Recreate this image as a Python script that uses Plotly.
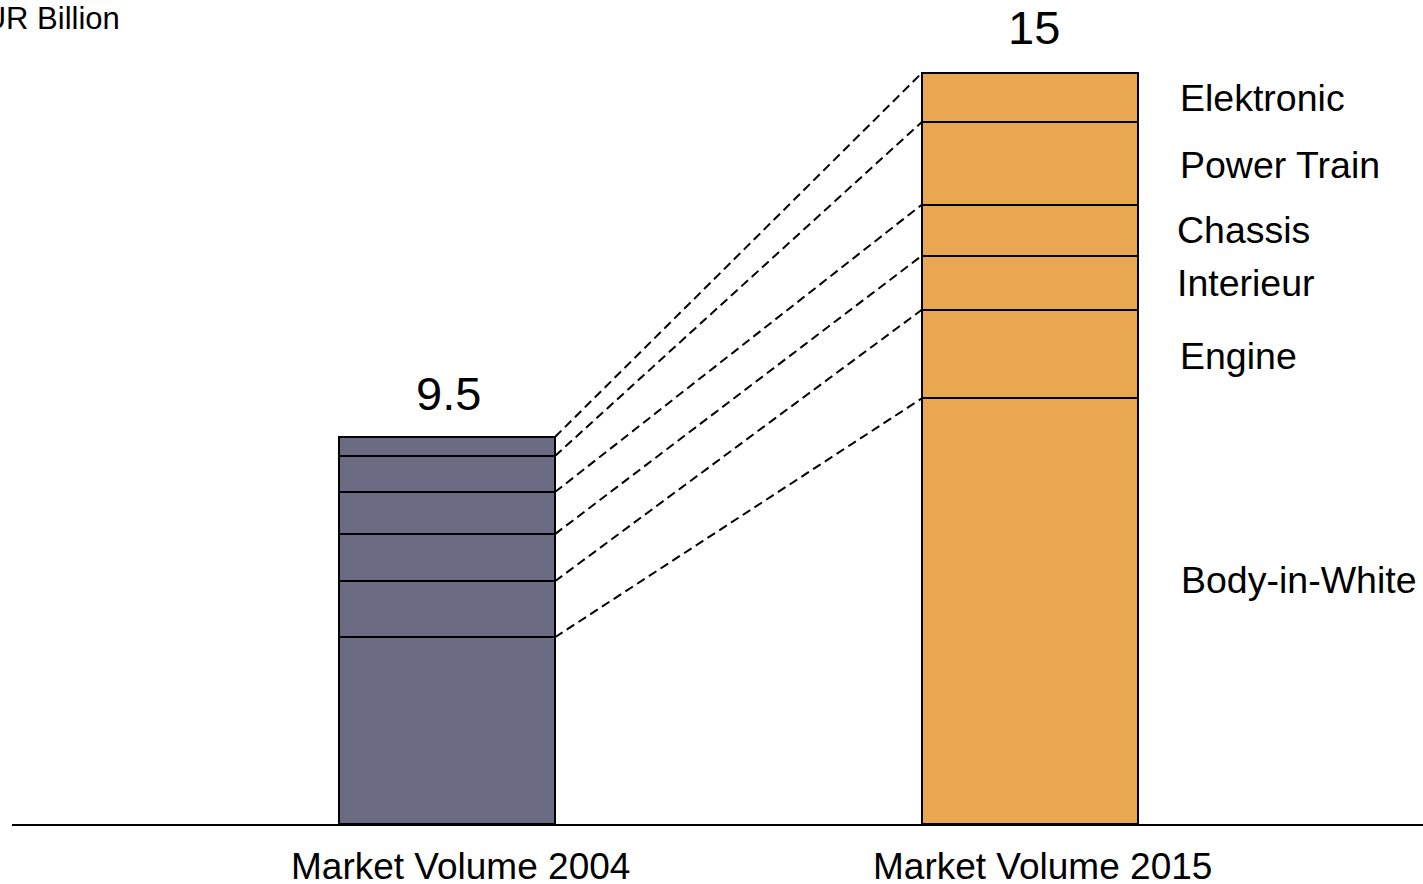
import plotly.graph_objects as go
import numpy as np

# ---- data ----
categories = ["Market Volume 2004", "Market Volume 2015"]
segments = ["Body-in-White", "Engine", "Interieur", "Chassis", "Power Train", "Elektronic"]
vol_2004 = [3.73, 1.12, 0.94, 0.84, 0.72, 0.38]
vol_2015 = [8.50, 1.77, 1.08, 1.02, 1.65, 0.98]
total_labels = ["9.5", "15"]
unit_label = "EUR Billion"

# ---- style ----
colors = ["#6B6B83", "#E9A752"]
font = "Liberation Sans, Arial, sans-serif"
W, H = 1423, 884
ml, mr, mt, mb = 12, 0, 20, 60
bar_w = 0.3706
x_pos = [0, 1]

fig = go.Figure()
for i, seg in enumerate(segments):
    fig.add_trace(go.Bar(
        x=x_pos, y=[vol_2004[i], vol_2015[i]], width=bar_w,
        marker=dict(color=colors, line=dict(color="black", width=2)),
        name=seg, showlegend=False, hoverinfo="skip"))

cum04 = np.cumsum(vol_2004)
cum15 = np.cumsum(vol_2015)
shapes = []
for a, b in zip(cum04, cum15):
    shapes.append(dict(type="line", xref="x", yref="y",
                       x0=x_pos[0] + bar_w / 2, y0=a, x1=x_pos[1] - bar_w / 2, y1=b,
                       line=dict(color="black", width=2, dash="9px,5px"), layer="above"))

ann = []
totals = [cum04[-1], cum15[-1]]
total_xshift = [1, 4]
total_yshift = [15, 17]
for i in range(2):
    ann.append(dict(x=x_pos[i], y=totals[i], xref="x", yref="y", text=total_labels[i],
                    showarrow=False, yanchor="bottom", yshift=total_yshift[i],
                    xshift=total_xshift[i],
                    font=dict(family=font, size=47, color="black")))
    ann.append(dict(x=x_pos[i], y=0, xref="x", yref="paper", text=categories[i],
                    showarrow=False, yanchor="middle", yshift=-42, xshift=13,
                    font=dict(family=font, size=37, color="black")))

label_yshift = [31, -2, 0, 0, -2, 0]
label_xshift = [41, 40, 37, 37, 40, 40]
prev = 0
for i, seg in enumerate(segments):
    mid = prev + vol_2015[i] / 2
    prev += vol_2015[i]
    ann.append(dict(x=x_pos[1] + bar_w / 2, y=mid, xref="x", yref="y", text=seg,
                    showarrow=False, xanchor="left", yanchor="middle",
                    xshift=label_xshift[i], yshift=label_yshift[i],
                    font=dict(family=font, size=37.5, color="black")))

ann.append(dict(x=0, y=1, xref="paper", yref="paper", text=unit_label, showarrow=False,
                xanchor="right", yanchor="middle", xshift=110, yshift=2,
                font=dict(family=font, size=31, color="black")))

plot_h = H - mt - mb
y_top = totals[1] * plot_h / 751.0
px_per_x = 582.8
x_left = x_pos[0] - (447 - ml) / px_per_x
x_right = x_pos[1] + (W - 1029.8) / px_per_x

fig.update_layout(
    width=W, height=H, margin=dict(l=ml, r=mr, t=mt, b=mb),
    barmode="stack", plot_bgcolor="white", paper_bgcolor="white",
    shapes=shapes, annotations=ann,
    xaxis=dict(range=[x_left, x_right], showgrid=False, zeroline=False,
               showticklabels=False, ticks="", showline=True, linecolor="black", linewidth=1.5),
    yaxis=dict(range=[0, y_top], showgrid=False, zeroline=False, showticklabels=False,
               ticks="", showline=False),
)
fig.write_html("out.html")
